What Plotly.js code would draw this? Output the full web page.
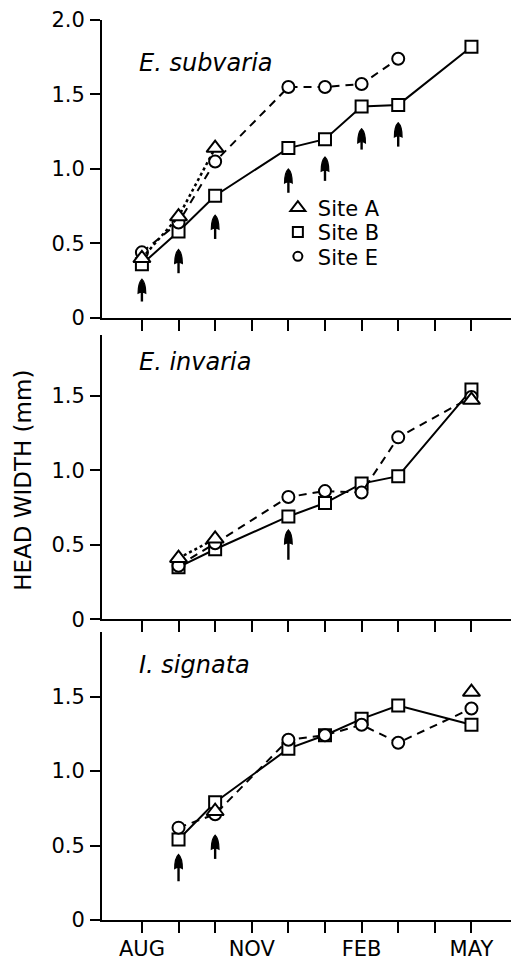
<!DOCTYPE html>
<html><head><meta charset="utf-8">
<script src="https://cdn.plot.ly/plotly-3.0.1.min.js"></script>
<style>html,body{margin:0;padding:0;background:#fff}#c{width:511px;height:961px}</style>
</head><body><div id="c"></div>
<script>
const months = ['AUG','SEP','OCT','NOV','DEC','JAN','FEB','MAR','APR','MAY'];
const tickLabels = ['AUG','','','NOV','','','FEB','','','MAY'];

// E. subvaria
const subvariaA = [0.40,0.68,1.14,null,null,null,null,null,null,null];
const subvariaB = [0.36,0.58,0.82,null,1.14,1.20,1.42,1.43,null,1.82];
const subvariaE = [0.44,0.64,1.05,null,1.55,1.55,1.57,1.74,null,null];
// E. invaria
const invariaA = [null,0.41,0.54,null,null,null,null,null,null,1.47];
const invariaB = [null,0.35,0.47,null,0.69,0.78,0.91,0.96,null,1.54];
const invariaE = [null,0.36,0.51,null,0.82,0.86,0.85,1.22,null,1.49];
// I. signata
const signataA = [null,null,0.73,null,null,null,null,null,null,1.53];
const signataB = [null,0.54,0.79,null,1.15,1.24,1.35,1.44,null,1.31];
const signataE = [null,0.62,0.71,null,1.21,1.24,1.31,1.19,null,1.42];

// arrows: month index, tail value, head value
const subvariaArrowMonth = [0,1,2,4,5,6,7];
const subvariaArrowTail  = [0.11,0.30,0.53,0.84,0.92,1.13,1.15];
const subvariaArrowHead  = [0.26,0.46,0.69,1.00,1.08,1.27,1.31];
const invariaArrowMonth = [4];
const invariaArrowTail  = [0.40];
const invariaArrowHead  = [0.60];
const signataArrowMonth = [1,2];
const signataArrowTail  = [0.26,0.41];
const signataArrowHead  = [0.44,0.57];

const speciesNames = ['E. subvaria','E. invaria','I. signata'];
const siteNames = ['Site A','Site B','Site E'];

const xs = months.map((m,i)=>i);
const FONT = 'DejaVu Sans, sans-serif';

function mk(sym, size){return {symbol:sym, size:size, color:'white', line:{color:'black', width:2}};}
const siteStyle = [
  {marker:mk('triangle-up',15), line:{color:'black',width:2.5,dash:'dot'}},
  {marker:mk('square',12), line:{color:'black',width:2}},
  {marker:mk('circle',12), line:{color:'black',width:2,dash:'8px,6px'}}
];

const panels = [
  {data:[subvariaA,subvariaB,subvariaE], connect:[false,true,true], ax:'x', ay:'y'},
  {data:[invariaA,invariaB,invariaE], connect:[false,true,true], ax:'x2', ay:'y2'},
  {data:[signataA,signataB,signataE], connect:[false,true,true], ax:'x3', ay:'y3'}
];

const traces = [];
panels.forEach(p=>{
  [1,2,0].forEach(s=>{
    traces.push({x:xs, y:p.data[s], xaxis:p.ax, yaxis:p.ay, mode:'lines+markers',
      connectgaps:p.connect[s], marker:siteStyle[s].marker, line:siteStyle[s].line,
      showlegend:false, hoverinfo:'skip'});
  });
});
// legend entries (markers only), one legend box per row
const legSizes=[13,10,9];
const legNames=['legend','legend2','legend3'];
siteNames.forEach((n,s)=>{
  traces.push({x:[null], y:[null], mode:'markers', name:n, xaxis:'x', yaxis:'y', legend:legNames[s],
    marker:{symbol:['triangle-up-open','square-open','circle-open'][s], size:legSizes[s], color:'black', line:{width:2}},
    showlegend:true});
});

// arrows as shapes: slender filled head + thin shaft
const shapes = [];
const headLen = 0.095;   // in y units (~14px)
const headHalf = 0.105;  // in month units (~3.9px)
function addArrows(mon, tail, head, xr, yr){
  mon.forEach((m,i)=>{
    const hb = head[i]-headLen;
    shapes.push({type:'line', xref:xr, yref:yr, x0:m, x1:m, y0:tail[i], y1:hb+0.01,
      line:{color:'black', width:2.4}});
    shapes.push({type:'path', xref:xr, yref:yr,
      path:`M ${m-headHalf} ${hb} Q ${m-headHalf} ${hb+headLen*0.75} ${m} ${head[i]} Q ${m+headHalf} ${hb+headLen*0.75} ${m+headHalf} ${hb} Q ${m} ${hb+0.015} ${m-headHalf} ${hb} Z`,
      fillcolor:'black', line:{color:'black', width:1.2}});
  });
}
addArrows(subvariaArrowMonth, subvariaArrowTail, subvariaArrowHead, 'x','y');
addArrows(invariaArrowMonth, invariaArrowTail, invariaArrowHead, 'x2','y2');
addArrows(signataArrowMonth, signataArrowTail, signataArrowHead, 'x3','y3');

const annotations = [];
const labelPos = [{y:0.952},{y:0.620},{y:0.283}];
speciesNames.forEach((n,i)=>{
  annotations.push({text:'<i>'+n+'</i>', xref:'paper', yref:'paper', x:0.085, y:labelPos[i].y,
    xanchor:'left', yanchor:'middle', showarrow:false, font:{family:FONT, size:24, color:'black'}});
});
annotations.push({text:'HEAD WIDTH (mm)', xref:'paper', yref:'paper', x:-0.193, y:0.488,
  textangle:-90, showarrow:false, xanchor:'center', yanchor:'middle', font:{family:FONT, size:23, color:'black'}});

const xRange = [-1.09, 10.08];
function xa(anchor, labels){
  return {range:xRange, anchor:anchor, showline:true, linewidth:2, linecolor:'black', ticks:'outside',
    ticklen:11, tickwidth:2, tickcolor:'black', tickvals:xs, ticktext: labels ? tickLabels : xs.map(()=>''),
    showgrid:false, zeroline:false, tickfont:{family:FONT, size:21, color:'black'}, ticklabelstandoff:-2, fixedrange:true};
}
function ya(dom, top, anchor, vals, txt){
  return {domain:dom, range:[0,top], anchor:anchor, showline:true, linewidth:2, linecolor:'black',
    ticks:'outside', ticklen:10, tickwidth:2, tickcolor:'black', tickvals:vals, ticktext:txt,
    showgrid:false, zeroline:false, tickfont:{family:FONT, size:21, color:'black'}, ticklabelstandoff:1};
}
function leg(y){
  return {x:0.43, y:y, xanchor:'left', yanchor:'middle', bgcolor:'rgba(0,0,0,0)',
    font:{family:FONT, size:21, color:'black'}, itemwidth:30, borderwidth:0};
}
const layout = {
  width:511, height:961, margin:{l:102, r:0, t:20, b:41},
  paper_bgcolor:'white', plot_bgcolor:'white', font:{family:FONT, color:'black'},
  xaxis: xa('y', false), xaxis2: xa('y2', false), xaxis3: xa('y3', true),
  yaxis: ya([0.669,1], 2.0, 'x', [0,0.5,1,1.5,2], ['0','0.5','1.0','1.5','2.0']),
  yaxis2: ya([0.334,0.65], 1.906, 'x2', [0,0.5,1,1.5], ['0','0.5','1.0','1.5']),
  yaxis3: ya([0,0.32], 1.933, 'x3', [0,0.5,1,1.5], ['0','0.5','1.0','1.5']),
  showlegend:true,
  legend: leg(0.791), legend2: leg(0.764), legend3: leg(0.737),
  annotations: annotations, shapes: shapes
};
Plotly.newPlot('c', traces, layout, {displayModeBar:false, staticPlot:true});
</script></body></html>
